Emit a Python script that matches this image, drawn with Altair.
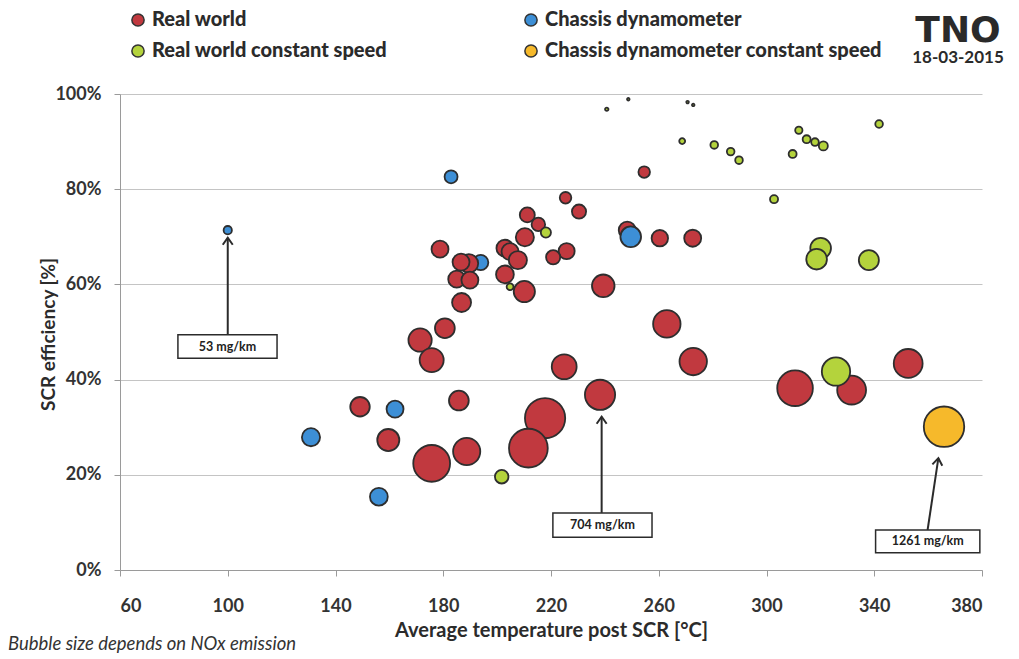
import altair as alt
import pandas as pd

# ---------------- data ----------------
series_names = ["Real world", "Chassis dynamometer",
                "Real world constant speed", "Chassis dynamometer constant speed"]
series_colors = ["#c1393f", "#3d8fd6", "#b4d33c", "#f6b92b"]

# Real world: temperature [°C], SCR efficiency [%], NOx [mg/km]
rw_temp = [225.4, 230.4, 254.6, 211.2, 215.3, 210.3, 178.8, 202.9, 204.8, 207.7,
           225.8, 220.8, 189.5, 186.6, 185.0, 189.9, 202.9, 210.1, 186.8, 239.4,
           248.3, 260.4, 272.6, 263.0, 180.6, 171.4, 175.7, 224.9, 272.8, 185.8,
           149.1, 159.6, 175.7, 188.7, 217.8, 211.6, 238.2, 310.6, 331.6, 352.6]
rw_eff = [78.2, 75.3, 83.6, 74.6, 72.6, 69.9, 67.4, 67.6, 66.9, 65.1,
          67.0, 65.7, 64.4, 64.7, 61.1, 60.9, 62.1, 58.5, 56.2, 59.7,
          71.4, 69.7, 69.7, 51.7, 50.8, 48.3, 44.1, 42.7, 43.8, 35.6,
          34.3, 27.3, 22.4, 24.9, 31.9, 25.6, 36.8, 38.2, 37.8, 43.4]
rw_nox = [103, 155, 103, 174, 142, 254, 223, 223, 223, 254,
          200, 155, 270, 223, 223, 223, 245, 348, 279, 395,
          223, 209, 223, 581, 303, 418, 446, 478, 581, 303,
          294, 376, 1045, 570, 1250, 1160, 704, 980, 643, 643]

# Chassis dynamometer
cd_temp = [100.0, 182.9, 193.9, 249.6, 162.1, 130.9, 156.1]
cd_eff = [71.4, 82.6, 64.6, 70.0, 33.8, 27.9, 15.4]
cd_nox = [53, 130, 180, 330, 223, 254, 245]

# Real world constant speed
rc_temp = [218.1, 204.8, 201.7, 325.8, 320.1, 318.6, 338.0, 302.8, 268.7, 280.6,
           286.7, 289.8, 312.0, 314.9, 318.0, 321.1, 309.7, 341.8, 240.7, 248.7,
           270.7, 272.8]
rc_eff = [70.9, 59.5, 19.6, 41.7, 67.6, 65.3, 65.1, 77.9, 90.1, 89.3,
          87.9, 86.1, 92.4, 90.5, 89.9, 89.1, 87.4, 93.7, 96.8, 98.9,
          98.3, 97.7]
rc_nox = [80, 36, 142, 620, 330, 330, 310, 50, 27, 45,
          45, 45, 41, 49, 45, 63, 49, 45, 9, 5,
          5, 5]

# Chassis dynamometer constant speed
cc_temp = [365.9]
cc_eff = [30.1]
cc_nox = [1261]

# points drawn underneath the others (series, index)
drawn_behind = [("Chassis dynamometer", 2), ("Real world constant speed", 1)]

# annotations
ann_text = ["53 mg/km", "704 mg/km", "1261 mg/km"]
ann_box_x1 = [81.5, 220.7, 340.5]
ann_box_x2 = [118.3, 257.5, 379.2]
ann_box_y1 = [44.5, 6.9, 3.6]
ann_box_y2 = [49.4, 12.0, 8.4]
ann_arrow_x1 = [100.0, 238.8, 359.8]
ann_arrow_y1 = [49.4, 12.0, 8.4]
ann_arrow_x2 = [100.0, 238.8, 363.8]
ann_arrow_y2 = [69.8, 32.2, 23.5]
ann_arrow_angle = [0, 0, 8.4]

x_ticks = [60, 100, 140, 180, 220, 260, 300, 340, 380]
y_ticks = [0, 20, 40, 60, 80, 100]

# ---------------- build tables ----------------
rank = {"Real world": 1, "Real world constant speed": 2,
        "Chassis dynamometer": 3, "Chassis dynamometer constant speed": 4}
rows = []
for name, tt, ee, nn in [("Real world", rw_temp, rw_eff, rw_nox),
                         ("Chassis dynamometer", cd_temp, cd_eff, cd_nox),
                         ("Real world constant speed", rc_temp, rc_eff, rc_nox),
                         ("Chassis dynamometer constant speed", cc_temp, cc_eff, cc_nox)]:
    for i, (t, e, n) in enumerate(zip(tt, ee, nn)):
        r = 0 if (name, i) in drawn_behind else rank[name]
        rows.append({"series": name, "temp": t, "eff": e, "nox": n, "rank": r})
df = pd.DataFrame(rows).sort_values("rank", kind="stable").reset_index(drop=True)
df["draw"] = range(len(df))

ann = pd.DataFrame({"text": ann_text, "bx1": ann_box_x1, "bx2": ann_box_x2,
                    "by1": ann_box_y1, "by2": ann_box_y2,
                    "ax1": ann_arrow_x1, "ay1": ann_arrow_y1,
                    "ax2": ann_arrow_x2, "ay2": ann_arrow_y2,
                    "angle": ann_arrow_angle})
ann["tx"] = (ann["bx1"] + ann["bx2"]) / 2
ann["ty"] = (ann["by1"] + ann["by2"]) / 2

FONT = "Lato"
xscale = alt.Scale(domain=[60, 380], nice=False, zero=False)
yscale = alt.Scale(domain=[0, 100], nice=False)

x_axis = alt.Axis(values=x_ticks, grid=False, title="Average temperature post SCR [°C]",
                  labelFontSize=18, labelFont=FONT, labelFontWeight="bold", labelColor="#333333",
                  labelPadding=21, tickSize=6, tickColor="#9a9a9a", domainColor="#9a9a9a",
                  titleFont=FONT, titleFontSize=20, titleFontWeight="bold", titleColor="#2b2b2b",
                  titlePadding=5)
y_axis = alt.Axis(values=y_ticks, grid=True, gridColor="#c4c4c4", gridWidth=1,
                  title="SCR efficiency [%]", labelExpr="datum.value + '%'",
                  labelFontSize=18, labelFont=FONT, labelFontWeight="bold", labelColor="#333333",
                  labelPadding=13, tickSize=6, tickColor="#9a9a9a", domainColor="#9a9a9a",
                  titleFont=FONT, titleFontSize=19, titleFontWeight="bold", titleColor="#2b2b2b",
                  titleX=-72, titleY=240, titleBaseline="middle", titleAngle=270)

bubbles = alt.Chart(df).mark_circle(opacity=1, stroke="#2e2e2e", strokeWidth=1.8).encode(
    x=alt.X("temp:Q", scale=xscale, axis=x_axis),
    y=alt.Y("eff:Q", scale=yscale, axis=y_axis),
    size=alt.Size("nox:Q", scale=alt.Scale(domain=[0, 1261], range=[0, 1633]), legend=None),
    color=alt.Color("series:N", scale=alt.Scale(domain=series_names, range=series_colors),
                    legend=alt.Legend(orient="none", legendX=8, legendY=-84, columns=2,
                                      direction="horizontal", title=None,
                                      symbolType="circle", symbolSize=150,
                                      symbolStrokeColor="#333333", symbolStrokeWidth=1.5,
                                      labelFont=FONT, labelFontSize=20, labelFontWeight=900,
                                      labelColor="#2b2b2b", labelOffset=4, columnPadding=133,
                                      rowPadding=11, padding=0, labelLimit=400)),
    order=alt.Order("draw:Q"),
)

arrows = alt.Chart(ann).mark_rule(color="#2b2b2b", strokeWidth=2).encode(
    x="ax1:Q", y="ay1:Q", x2="ax2:Q", y2="ay2:Q")

heads = alt.Chart(ann).mark_point(shape="M -1 1.4 L 0 0 L 1 1.4", filled=False,
                                  stroke="#2b2b2b", strokeWidth=2, size=100, opacity=1).encode(
    x="ax2:Q", y="ay2:Q", angle=alt.Angle("angle:Q", scale=None))

boxes = alt.Chart(ann).mark_rect(fill="white", stroke="#2b2b2b", strokeWidth=1.5).encode(
    x="bx1:Q", x2="bx2:Q", y="by1:Q", y2="by2:Q")

labels = alt.Chart(ann).mark_text(font=FONT, fontSize=12.5, fontWeight="bold",
                                  color="#222222", baseline="middle").encode(
    x="tx:Q", y="ty:Q", text="text:N")

note = alt.Chart(pd.DataFrame({"t": ["Bubble size depends on NOx emission"]})).mark_text(
    font=FONT, fontSize=18.5, fontStyle="italic", color="#333333", align="left",
    baseline="alphabetic").encode(x=alt.value(-112), y=alt.value(556), text="t:N")

logo = alt.Chart(pd.DataFrame({"t": ["TNO"]})).mark_text(
    font="DejaVu Sans", fontSize=36, fontWeight="bold", color="#2a2a2a",
    align="center", baseline="alphabetic").encode(x=alt.value(838), y=alt.value(-52), text="t:N")

date = alt.Chart(pd.DataFrame({"t": ["18-03-2015"]})).mark_text(
    font=FONT, fontSize=17, fontWeight="bold", color="#2a2a2a",
    align="center", baseline="alphabetic").encode(x=alt.value(838), y=alt.value(-31), text="t:N")

chart = alt.layer(bubbles, arrows, heads, boxes, labels, note, logo, date).properties(
    width=862, height=476, autosize="none",
    padding={"left": 112, "top": 86, "right": 29, "bottom": 92},
    background="white",
).configure_view(stroke=None)

chart.save("out.html", embed_options={"renderer": "svg", "actions": False})
